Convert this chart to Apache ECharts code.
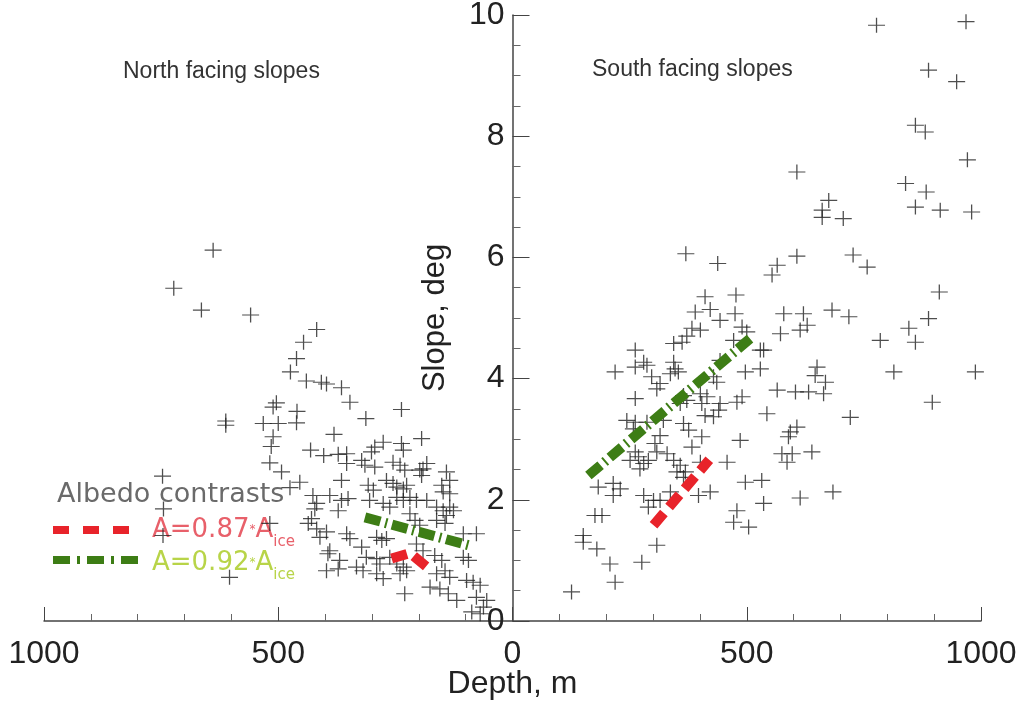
<!DOCTYPE html>
<html>
<head>
<meta charset="utf-8">
<script src="https://cdn.jsdelivr.net/npm/echarts@6/dist/echarts.min.js"></script>
<style>
  html, body { margin: 0; padding: 0; background: #fff; }
  #chart { width: 1028px; height: 703px; }
</style>
</head>
<body>
<div id="chart"></div>
<script>
// [depth m, slope deg]
const northSlopes = [
  [639, 6.12], [723, 5.49], [664, 5.13], [559, 5.05], [418, 4.81], [446, 4.6], [461, 4.33], [474, 4.11],
  [440, 3.96], [408, 3.94], [397, 3.91], [365, 3.85], [347, 3.61], [504, 3.6], [511, 3.53], [460, 3.46],
  [612, 3.3], [612, 3.23], [532, 3.26], [500, 3.26], [461, 3.27], [511, 3.04], [515, 2.88], [381, 3.08],
  [431, 2.82], [403, 2.73], [372, 2.75], [354, 2.76], [518, 2.61], [493, 2.46], [747, 2.39], [745, 1.85],
  [746, 1.41], [604, 0.72], [518, 1.61], [237, 3.49], [313, 3.34], [276, 2.95], [294, 2.87], [301, 2.79],
  [237, 2.93], [233, 2.82], [194, 3.01], [322, 2.65], [315, 2.57], [294, 2.54], [255, 2.62], [240, 2.57],
  [230, 2.49], [198, 2.49], [191, 2.51], [194, 2.4], [183, 2.6], [454, 2.29], [365, 2.32], [269, 2.32],
  [255, 2.27], [247, 2.21], [233, 2.18], [226, 2.24], [141, 2.46], [134, 2.32], [151, 2.24], [148, 2.13],
  [134, 2.1], [426, 2.07], [390, 2.07], [365, 1.99], [351, 2.02], [418, 1.94], [422, 1.85], [372, 1.82],
  [297, 2.16], [305, 1.99], [276, 1.94], [262, 1.88], [247, 2.04], [233, 1.99], [219, 2.04], [205, 1.99],
  [183, 1.99], [162, 1.88], [148, 1.82], [134, 1.88], [141, 1.74], [126, 1.82], [308, 2.24], [429, 1.69],
  [436, 1.61], [418, 1.52], [397, 1.47], [354, 1.44], [347, 1.36], [290, 1.38], [279, 1.33], [269, 1.36],
  [219, 1.77], [208, 1.66], [198, 1.58], [162, 1.66], [144, 1.61], [105, 1.44], [77, 1.44], [390, 1.16],
  [394, 1.11], [369, 1.0], [322, 1.22], [312, 1.05], [290, 1.03], [283, 0.94], [262, 1.05], [247, 0.94],
  [233, 0.89], [205, 1.27], [191, 1.16], [166, 1.08], [151, 1.0], [105, 1.05], [94, 1.0], [397, 0.83],
  [372, 0.86], [333, 0.89], [319, 0.83], [290, 0.78], [276, 0.7], [240, 0.78], [226, 0.83], [162, 0.78],
  [144, 0.83], [134, 0.72], [176, 0.56], [155, 0.53], [98, 0.67], [84, 0.64], [69, 0.59], [230, 0.45],
  [119, 0.34], [137, 0.45], [77, 0.39], [55, 0.34], [62, 0.23], [87, 0.15], [69, 0.12], [475, 2.2],
  [354, 2.6], [411, 1.38]
]

const southSlopes = [
  [777, 9.83], [968, 9.89], [888, 9.09], [948, 8.9], [860, 8.18], [881, 8.07], [971, 7.61], [607, 7.41],
  [839, 7.22], [883, 7.08], [860, 6.83], [913, 6.78], [980, 6.75], [675, 6.94], [661, 6.78], [661, 6.66],
  [706, 6.64], [607, 6.02], [565, 5.87], [554, 5.71], [727, 6.04], [757, 5.84], [911, 5.43], [579, 5.07],
  [621, 5.07], [629, 4.88], [682, 5.13], [718, 5.02], [888, 4.99], [846, 4.83], [860, 4.6], [572, 4.74],
  [614, 4.8], [785, 4.63], [529, 4.47], [529, 4.16], [650, 4.19], [646, 4.05], [668, 3.94], [814, 4.11],
  [988, 4.11], [565, 3.81], [604, 3.78], [632, 3.78], [664, 3.75], [896, 3.61], [543, 3.42], [721, 3.36],
  [607, 3.2], [593, 3.12], [589, 3.04], [639, 2.79], [575, 2.76], [597, 2.76], [586, 2.62], [532, 2.32],
  [614, 2.03], [684, 2.13], [536, 1.94], [370, 6.06], [438, 5.9], [411, 5.35], [477, 5.38], [422, 5.14],
  [390, 5.1], [443, 4.96], [475, 5.07], [383, 4.83], [401, 4.8], [490, 4.85], [500, 4.77], [372, 4.7],
  [344, 4.58], [362, 4.6], [262, 4.47], [472, 4.63], [536, 4.47], [280, 4.27], [262, 4.19], [287, 4.22],
  [219, 4.11], [344, 4.27], [347, 4.16], [337, 4.08], [354, 4.11], [443, 4.3], [497, 4.11], [297, 4.03],
  [315, 3.92], [308, 3.83], [429, 4.03], [436, 3.94], [262, 3.67], [365, 3.72], [372, 3.64], [358, 3.59],
  [401, 3.75], [415, 3.7], [404, 3.59], [443, 3.59], [440, 3.48], [490, 3.7], [479, 3.61], [244, 3.31],
  [262, 3.28], [287, 3.28], [322, 3.31], [365, 3.26], [411, 3.39], [429, 3.37], [458, 2.62], [486, 2.98],
  [497, 2.29], [479, 1.82], [472, 1.63], [504, 1.55], [404, 3.04], [258, 3.17], [315, 3.06], [304, 2.93],
  [376, 3.15], [383, 2.87], [262, 2.79], [251, 2.65], [269, 2.71], [280, 2.6], [290, 2.65], [272, 2.51],
  [308, 2.79], [330, 2.76], [344, 2.65], [358, 2.57], [351, 2.46], [369, 2.46], [365, 2.37], [401, 2.62],
  [183, 2.21], [215, 2.27], [230, 2.18], [215, 2.07], [280, 2.07], [301, 1.99], [290, 1.88], [315, 1.99],
  [337, 2.13], [397, 2.07], [422, 2.13], [176, 1.74], [191, 1.74], [151, 1.41], [151, 1.3], [180, 1.19],
  [208, 0.94], [219, 0.64], [276, 0.97], [308, 1.25], [126, 0.48]
]

// albedo contrast curves
const northLow = [[258, 1.03], [219, 1.12], [173, 0.83]]
const northHigh = [[315, 1.71], [94, 1.25]]
const southLow = [[301, 1.58], [420, 2.66]]
const southHigh = [[162, 2.4], [507, 4.66]]

const plus = 'path://M0,7L16,7M8,0L8,14'
const axisFont = "'Liberation Sans', sans-serif"
const legendFont = "'DejaVu Sans', sans-serif"

// north side is drawn to the left of the slope axis
const toLeft = (arr) => arr.map((p) => [-p[0], p[1]])

function scatter(data) {
  return {
    type: 'scatter',
    data: data,
    symbol: plus,
    symbolSize: [17, 15],
    silent: true,
    itemStyle: { color: 'none', borderColor: '#222', borderWidth: 1.2 },
    z: 2,
  }
}

function fitLine(data, color, dash) {
  return {
    type: 'line',
    data: data,
    symbol: 'none',
    silent: true,
    lineStyle: { color: color, width: 10, type: dash, cap: 'butt' },
    z: 3,
  }
}

const rich = {
  s: { fontSize: 12, fontFamily: legendFont, lineHeight: 40, verticalAlign: 'middle' },
  sub: { fontSize: 15, fontFamily: legendFont, lineHeight: 40, verticalAlign: 'bottom' },
}

const gridLeft = 44
const gridRight = 47

const chart = echarts.init(document.getElementById('chart'))
// slope axis sits in the middle, at depth 0
const midOffset = -((1028 - gridLeft - gridRight) / 2)

chart.setOption({
  animation: false,
  grid: { left: gridLeft, right: gridRight, top: 15, bottom: 82, outerBoundsMode: 'none', containLabel: false },
  xAxis: {
    type: 'value',
    min: -1000,
    max: 1000,
    interval: 500,
    name: 'Depth, m',
    nameLocation: 'middle',
    nameGap: 47,
    nameMoveOverlap: false,
    nameTextStyle: { fontFamily: axisFont, fontSize: 32, color: '#222' },
    axisLine: { onZero: false, lineStyle: { color: '#444', width: 1.5 } },
    axisTick: { inside: true, length: 14, lineStyle: { color: '#444' } },
    minorTick: { show: true, splitNumber: 5, length: 7, lineStyle: { color: '#666' } },
    axisLabel: {
      margin: 17,
      fontFamily: axisFont,
      fontSize: 32,
      color: '#222',
      formatter: (v) => String(Math.abs(v)),
    },
    splitLine: { show: false },
  },
  yAxis: {
    type: 'value',
    position: 'left',
    offset: midOffset,
    min: 0,
    max: 10,
    interval: 2,
    name: 'Slope, deg',
    nameLocation: 'middle',
    nameRotate: 90,
    nameGap: 62,
    nameTextStyle: { fontFamily: axisFont, fontSize: 31, color: '#222' },
    axisLine: { onZero: false, lineStyle: { color: '#444', width: 1.5 } },
    axisTick: { inside: true, length: 17, lineStyle: { color: '#444' } },
    minorTick: { show: true, splitNumber: 4, length: 8, lineStyle: { color: '#666' } },
    axisLabel: { margin: 8, fontFamily: axisFont, fontSize: 32, color: '#222' },
    splitLine: { show: false },
  },
  graphic: [
    {
      type: 'text',
      left: 123,
      top: 60,
      style: { text: 'North facing slopes', font: "23px 'Liberation Sans', sans-serif", fill: '#333' },
    },
    {
      type: 'text',
      left: 592,
      top: 58,
      style: { text: 'South facing slopes', font: "23px 'Liberation Sans', sans-serif", fill: '#333' },
    },
    {
      type: 'text',
      left: 57,
      top: 481,
      style: { text: 'Albedo contrasts', font: '27px ' + legendFont, fill: '#6a6a6a' },
    },
    {
      type: 'line',
      shape: { x1: 53, y1: 530, x2: 131, y2: 530 },
      style: { stroke: '#e8232a', lineWidth: 8, lineDash: [16, 14] },
    },
    {
      type: 'line',
      shape: { x1: 53, y1: 560, x2: 138, y2: 560 },
      style: { stroke: '#3d7d15', lineWidth: 8, lineDash: [17, 7, 3, 7] },
    },
    {
      type: 'text',
      left: 152,
      top: 510,
      style: {
        text: 'A=0.87{s|*}A{sub|ice}',
        font: '26px ' + legendFont,
        fill: '#e8606a',
        lineHeight: 40,
        rich: rich,
      },
    },
    {
      type: 'text',
      left: 152,
      top: 543,
      style: {
        text: 'A=0.92{s|*}A{sub|ice}',
        font: '26px ' + legendFont,
        fill: '#b8d448',
        lineHeight: 40,
        rich: rich,
      },
    },
  ],
  series: [
    scatter(toLeft(northSlopes)),
    scatter(southSlopes),
    fitLine(toLeft(northLow), '#e8232a', [16, 8]),
    fitLine(toLeft(northHigh), '#3d7d15', [16, 5, 2, 5]),
    fitLine(southLow, '#e8232a', [16, 8]),
    fitLine(southHigh, '#3d7d15', [16, 5, 2, 5]),
  ],
})
</script>
</body>
</html>
